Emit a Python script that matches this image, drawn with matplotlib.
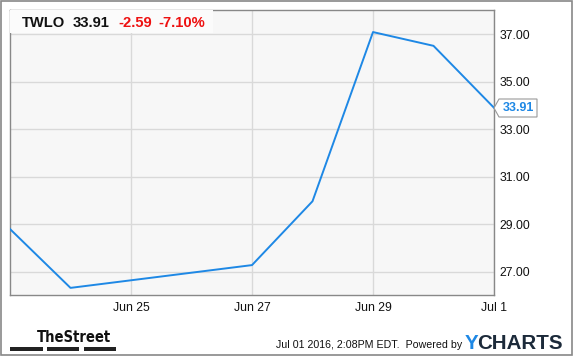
import matplotlib
matplotlib.use("Agg")
import matplotlib.pyplot as plt
import matplotlib.patches as mpatches
import pandas as pd

# data
dates = ["2016-06-23", "2016-06-24", "2016-06-27", "2016-06-28",
         "2016-06-29", "2016-06-30", "2016-07-01"]
prices = [28.80, 26.32, 27.28, 29.97, 37.10, 36.52, 33.91]
yticks = [27, 29, 31, 33, 35, 37]
xtick_dates = ["2016-06-25", "2016-06-27", "2016-06-29", "2016-07-01"]
xtick_labels = ["Jun 25", "Jun 27", "Jun 29", "Jul 1"]

ticker = "TWLO"
last = "33.91"
change = "-2.59"
pct = "-7.10%"

plt.rcParams["font.family"] = ["Liberation Sans", "DejaVu Sans"]
W, H = 575, 358
fig = plt.figure(figsize=(W / 100, H / 100), dpi=100)
fig.patch.set_facecolor("white")

def fx(px):
    return px / W

def fy(py):
    return 1 - py / H

L, R, T, B = 10, 494, 10, 295
ax = fig.add_axes([fx(L), fy(B), fx(R) - fx(L), fy(T) - fy(B)])
ax.set_facecolor("#f7f7f7")

x = pd.to_datetime(dates)
ax.plot(x, prices, color="#1e88e5", lw=1.4, zorder=3)

ax.set_xlim(pd.Timestamp("2016-06-23"), pd.Timestamp("2016-07-01"))
ax.set_ylim(26.02, 38.03)
ax.set_yticks(yticks)
ax.set_yticklabels(["%.2f" % v for v in yticks])
ax.set_xticks(pd.to_datetime(xtick_dates))
ax.set_xticklabels(xtick_labels)
ax.yaxis.tick_right()
ax.tick_params(axis="both", length=0, labelsize=8.8, colors="#111111")
ax.tick_params(axis="y", pad=4)
ax.tick_params(axis="x", pad=5)
ax.grid(True, color="#d9d9d9", lw=1)
ax.set_axisbelow(True)
for s in ax.spines.values():
    s.set_color("#888888")
    s.set_linewidth(1)

# ticker header box
ax.add_patch(mpatches.Rectangle((fx(L), fy(33)), fx(213) - fx(L), fy(T) - fy(33),
                                transform=fig.transFigure, facecolor="#fbfbfb",
                                edgecolor="none", zorder=4))
hy = fy(27)
hs = 10.6
fig.text(fx(22), hy, ticker, fontsize=hs, fontweight="bold", va="baseline", color="#111111")
fig.text(fx(73), hy, last, fontsize=hs, fontweight="bold", va="baseline", color="#111111")
fig.text(fx(118), hy, change, fontsize=hs, fontweight="bold", va="baseline", color="#ee1111")
fig.text(fx(158), hy, pct, fontsize=hs, fontweight="bold", va="baseline", color="#ee1111")

# last price label box
ly = fy(108)
box = mpatches.Polygon([(fx(494), ly), (fx(499), fy(99)), (fx(537), fy(99)),
                        (fx(537), fy(117)), (fx(499), fy(117))], closed=True,
                       transform=fig.transFigure, facecolor="white",
                       edgecolor="#999999", lw=0.8)
fig.patches.append(box)
fig.text(fx(518), ly, last, fontsize=9, fontweight="bold", color="#1e88e5",
         ha="center", va="center")

# outer border
fig.patches.append(mpatches.Rectangle((fx(1), fy(355)), fx(572) - fx(1), fy(1) - fy(355),
                                      transform=fig.transFigure, facecolor="none",
                                      edgecolor="#888888", lw=1.2))

# footer
fig.text(fx(36.5), fy(341.7), "TheStreet", fontsize=10.5, fontweight="bold",
         va="baseline", color="#111111",
         family=["Liberation Sans Narrow", "DejaVu Sans"], stretch="condensed")
for a, b in [(10, 42.5), (46.5, 79), (84, 116)]:
    fig.patches.append(mpatches.Rectangle((fx(a), fy(350.5)), fx(b) - fx(a), fy(347) - fy(350.5),
                                          transform=fig.transFigure, facecolor="#222222",
                                          edgecolor="none"))
fig.text(fx(275.5), fy(348.3), "Jul 01 2016, 2:08PM EDT.  Powered by", fontsize=7.7,
         va="baseline", color="#111111")
fig.text(fx(464.5), fy(349), "Y", fontsize=14.8, fontweight="bold", va="baseline", color="#1e88e5")
fig.text(fx(477), fy(349), "CHARTS", fontsize=14.8, fontweight="bold", va="baseline", color="#1c2a3a")

fig.savefig("out.png", dpi=100)
